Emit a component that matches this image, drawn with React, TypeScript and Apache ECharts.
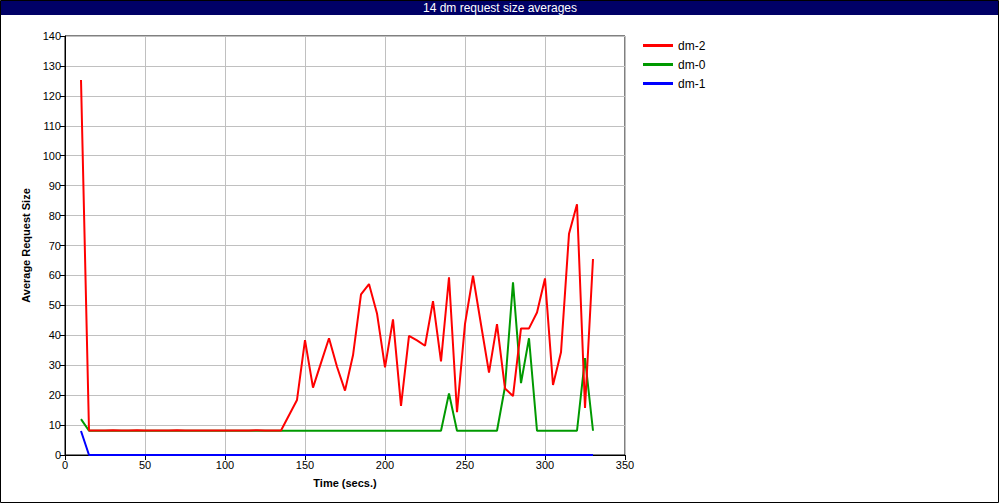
import React, { useEffect, useRef } from "react";
import * as echarts from "echarts";

const title = "14 dm request size averages";
const seriesNames = ["dm-2", "dm-0", "dm-1"];
const colors = ["#ff0000", "#009900", "#0000ff"];

const times = [
  10, 15, 20, 25, 30, 35, 40, 45, 50, 55, 60, 65, 70, 75, 80, 85, 90, 95, 100,
  105, 110, 115, 120, 125, 130, 135, 140, 145, 150, 155, 160, 165, 170, 175, 180,
  185, 190, 195, 200, 205, 210, 215, 220, 225, 230, 235, 240, 245, 250, 255, 260,
  265, 270, 275, 280, 285, 290, 295, 300, 305, 310, 315, 320, 325, 330,
];

const dm2 = [
  125.3, 8.2, 8.2, 8.2, 8.3, 8.2, 8.2, 8.3, 8.2, 8.2, 8.2, 8.2, 8.3, 8.2, 8.2, 8.2,
  8.2, 8.2, 8.2, 8.2, 8.2, 8.2, 8.3, 8.2, 8.2, 8.2, 13.3, 18.4, 38.4, 22.5, 30.8,
  39.0, 29.5, 21.5, 33.3, 53.7, 57.1, 47.3, 29.3, 45.3, 16.4, 39.8, 38.3, 36.5,
  51.4, 31.3, 59.4, 14.3, 43.8, 59.9, 43.6, 27.5, 43.7, 22.2, 19.7, 42.3, 42.3,
  47.6, 59.0, 23.4, 34.3, 73.9, 83.8, 15.7, 65.5,
];

const dm0 = [
  12.0, 8.1, 8.1, 8.1, 8.1, 8.1, 8.1, 8.1, 8.1, 8.1, 8.1, 8.1, 8.1, 8.1, 8.1, 8.1,
  8.1, 8.1, 8.1, 8.1, 8.1, 8.1, 8.1, 8.1, 8.1, 8.1, 8.1, 8.1, 8.1, 8.1, 8.1, 8.1,
  8.1, 8.1, 8.1, 8.1, 8.1, 8.1, 8.1, 8.1, 8.1, 8.1, 8.1, 8.1, 8.1, 8.1, 20.6, 8.1,
  8.1, 8.1, 8.1, 8.1, 8.1, 22.8, 57.7, 24.0, 39.0, 8.1, 8.1, 8.1, 8.1, 8.1, 8.1,
  32.4, 8.1,
];

const dm1 = [
  8.0, 0, 0, 0, 0, 0, 0, 0, 0, 0, 0, 0, 0, 0, 0, 0, 0, 0, 0, 0, 0, 0, 0, 0, 0, 0,
  0, 0, 0, 0, 0, 0, 0, 0, 0, 0, 0, 0, 0, 0, 0, 0, 0, 0, 0, 0, 0, 0, 0, 0, 0, 0, 0,
  0, 0, 0, 0, 0, 0, 0, 0, 0, 0, 0, 0,
];

const xTicks = { min: 0, max: 350, interval: 50 };
const yTicks = { min: 0, max: 140, interval: 10 };

const font = "'Liberation Sans', Arial, Helvetica, sans-serif";

export default function App() {
  const ref = useRef<HTMLDivElement>(null);
  useEffect(() => {
    document.body.style.margin = "0";
    if (!ref.current) return;
    const chart = echarts.init(ref.current, undefined, { renderer: "svg" });
    const values = [dm2, dm0, dm1];
    const zs = [4, 3, 2];
    chart.setOption({
      animation: false,
      backgroundColor: "#ffffff",
      graphic: [
        {
          type: "rect",
          shape: { x: 0.5, y: 0.5, width: 998, height: 502 },
          style: { fill: "none", stroke: "#000000", lineWidth: 1 },
          z: 10,
        },
        {
          type: "rect",
          shape: { x: 1, y: 1, width: 998, height: 14 },
          style: { fill: "#000066" },
          z: 9,
        },
        {
          type: "text",
          x: 500,
          y: 8,
          style: {
            text: title,
            fill: "#ffffff",
            font: "12px " + font,
            textAlign: "center",
            textVerticalAlign: "middle",
          },
          z: 11,
        },
      ],
      legend: {
        orient: "vertical",
        left: 638,
        top: 33,
        itemWidth: 30,
        itemHeight: 3,
        itemGap: 4,
        icon: "rect",
        data: seriesNames,
        textStyle: { fontFamily: font, fontSize: 12, color: "#000", lineHeight: 15 },
      },
      grid: {
        left: 65,
        right: 375,
        top: 36,
        bottom: 49,
        show: true,
        borderColor: "#000000",
        borderWidth: 1,
        backgroundColor: "transparent",
      },
      xAxis: {
        type: "value",
        min: xTicks.min,
        max: xTicks.max,
        interval: xTicks.interval,
        name: "Time (secs.)",
        nameLocation: "middle",
        nameGap: 22,
        nameTextStyle: { fontFamily: font, fontSize: 11, fontWeight: "bold", color: "#000" },
        axisLine: { show: true, lineStyle: { color: "#000", width: 1 } },
        axisTick: { show: true, length: 5, lineStyle: { color: "#000" } },
        axisLabel: { fontFamily: font, fontSize: 11, color: "#000", margin: 4 },
        splitLine: { show: true, lineStyle: { color: "#c0c0c0", width: 1 } },
      },
      yAxis: {
        type: "value",
        min: yTicks.min,
        max: yTicks.max,
        interval: yTicks.interval,
        name: "Average Request Size",
        nameLocation: "middle",
        nameGap: 26,
        nameTextStyle: { fontFamily: font, fontSize: 11, fontWeight: "bold", color: "#000" },
        axisLine: { show: true, lineStyle: { color: "#000", width: 1 } },
        axisTick: { show: true, length: 5, lineStyle: { color: "#000" } },
        axisLabel: { fontFamily: font, fontSize: 11, color: "#000", margin: 4 },
        splitLine: { show: true, lineStyle: { color: "#c0c0c0", width: 1 } },
      },
      series: seriesNames.map((name, i) => ({
        name,
        type: "line",
        data: times.map((t, j) => [t, values[i][j]]),
        showSymbol: false,
        symbol: "none",
        z: zs[i],
        lineStyle: { color: colors[i], width: 2 },
        itemStyle: { color: colors[i] },
      })),
    });
    return () => chart.dispose();
  }, []);
  return (
    <div
      ref={ref}
      style={{ position: "absolute", left: 0, top: 0, width: 1000, height: 504 }}
    />
  );
}
